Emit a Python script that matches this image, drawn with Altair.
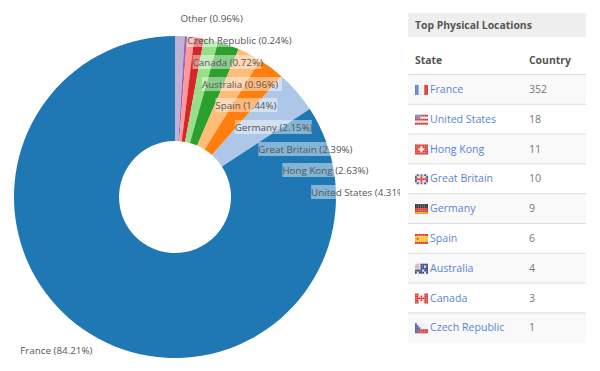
import math
import altair as alt
import pandas as pd

# --- data ---
SLICE_NAMES = ["Other", "Czech Republic", "Canada", "Australia", "Spain", "Germany",
               "Great Britain", "Hong Kong", "United States", "France"]
SLICE_PCT = [0.96, 0.24, 0.72, 0.96, 1.44, 2.15, 2.39, 2.63, 4.31, 84.21]
SLICE_COLORS = ["#c5b0d5", "#9467bd", "#ff9896", "#d62728", "#98df8a", "#2ca02c",
                "#ffbb78", "#ff7f0e", "#aec7e8", "#1f77b4"]
TABLE_STATES = ["France", "United States", "Hong Kong", "Great Britain", "Germany",
                "Spain", "Australia", "Canada", "Czech Republic"]
TABLE_COUNTS = [352, 18, 11, 10, 9, 6, 4, 3, 1]
# label box widths (px) and label baselines, in slice order
LABEL_W = [61, 105, 69, 80, 62, 77, 93, 85, 97, 69]
LABEL_Y = [11, 33, 55, 77, 98, 120, 142, 163, 185, 343]
# flags as small colour grids (rows of columns)
P = {"b": "#3f62a8", "w": "#eef0f4", "r": "#dc3b33", "k": "#3a3a3a", "y": "#f5c52e",
     "n": "#34497f", "s": "#6f80bb", "l": "#5a86cc", "g": "#d8a72c", "c": "#d4d8e4", "p": "#e8a0a0"}
FLAGS = {
    "France": ["llwwwrr"] * 5,
    "United States": ["sssrrrr", "sssww" + "ww", "rrrrrrr", "wwwwwww", "rrrrrrr"],
    "Hong Kong": ["rrrrrrr", "rrrwrrr", "rrwwwrr", "rrrwrrr", "rrrrrrr"],
    "Great Britain": ["cncrcnc", "nccrccn", "rrrrrrr", "nccrccn", "cncrcnc"],
    "Germany": ["kkkkkkk", "kkkkkkk", "rrrrrrr", "rrrrrrr", "ggggggg"],
    "Spain": ["rrrrrrr", "yyyyyyy", "yryyyyy", "yyyyyyy", "rrrrrrr"],
    "Australia": ["cpcnnnn", "ppcnnwn", "cpcnnnn", "nnnnwnn", "nwnnnwn"],
    "Canada": ["rrwwwrr", "rrwrwrr", "rrrrrrr", "rrwrwrr", "rrwwwrr"],
    "Czech Republic": ["bwwwwww", "bbwwwww", "bbbwwww", "bbrrrrr", "brrrrrr"],
}

OX, OY = 8, 8  # page margin
CX, CY, R0, R1, RL = 175 - OX, 197 - OY, 56, 161, 180
FONT = "Open Sans"

# --- pie ---
pie = pd.DataFrame({"name": SLICE_NAMES, "pct": SLICE_PCT, "rank": range(len(SLICE_NAMES))})
arc = alt.Chart(pie).mark_arc(innerRadius=R0, outerRadius=R1).encode(
    theta=alt.Theta("pct:Q", stack=True),
    order=alt.Order("rank:Q", sort="ascending"),
    color=alt.Color("name:N", legend=None,
                    scale=alt.Scale(domain=SLICE_NAMES, range=SLICE_COLORS)),
    x=alt.value(CX), y=alt.value(CY),
)

# --- pie labels: anchored at a fixed radius on each slice's mid-angle ---
total = sum(SLICE_PCT)
rows, cum = [], 0.0
for n, p, w, y in zip(SLICE_NAMES, SLICE_PCT, LABEL_W, LABEL_Y):
    mid = (cum + p / 2) / total * 2 * math.pi
    cum += p
    ax = CX + RL * math.sin(mid)
    left = ax if math.sin(mid) >= 0 else ax - w
    rows.append({"label": f"{n} ({p:.2f}%)", "x": left, "x2": left + w, "y": y,
                 "y0": y - 8, "y1": y + 6})
labels = pd.DataFrame(rows)
label_bg = alt.Chart(labels).mark_rect(color="white", opacity=0.45).encode(
    x=alt.X("x:Q", scale=None, axis=None), x2="x2:Q",
    y=alt.Y("y0:Q", scale=None, axis=None), y2="y1:Q")
label_tx = alt.Chart(labels).mark_text(align="left", baseline="middle", font=FONT,
                                       fontSize=9.8, color="#555555").encode(
    x=alt.X("x:Q", scale=None), y=alt.Y("y:Q", scale=None), text="label:N")

# --- table ---
TX0, TX1 = 408 - OX, 586 - OX
ROW0, ROWH = 74.5 - OY, 29.8
tbl = pd.DataFrame({"state": TABLE_STATES, "count": [str(c) for c in TABLE_COUNTS]})
tbl["i"] = range(len(tbl))
tbl["y0"] = ROW0 + tbl["i"] * ROWH
tbl["y1"] = tbl["y0"] + ROWH
tbl["ym"] = tbl["y0"] + ROWH / 2 + 0.5
tbl["x0"] = TX0
tbl["x1"] = TX1
tbl["xs"] = 430 - OX
tbl["xc"] = 529 - OX

panel = pd.DataFrame({"x0": [TX0 - 8], "x1": [592 - OX], "y0": [0], "y1": [355], "c": ["#ffffff"]})
head = pd.DataFrame({"x0": [TX0], "x1": [TX1], "y0": [13 - OY], "y1": [37 - OY], "c": ["#eeeeee"]})
stripes = tbl[tbl["i"] % 2 == 0].assign(c="#f9f9f9")


def boxes(df, **kw):
    return alt.Chart(df).mark_rect(**kw).encode(
        x=alt.X("x0:Q", scale=None, axis=None), x2="x1:Q",
        y=alt.Y("y0:Q", scale=None, axis=None), y2="y1:Q",
        color=alt.Color("c:N", scale=None, legend=None))


rules = pd.DataFrame({"y": [ROW0 + k * ROWH for k in range(len(tbl))], "x0": TX0, "x1": TX1})
rule = alt.Chart(rules).mark_rule(color="#dddddd", strokeWidth=1).encode(
    x=alt.X("x0:Q", scale=None), x2="x1:Q", y=alt.Y("y:Q", scale=None))

cells = []
for i, st in enumerate(TABLE_STATES):
    grid = FLAGS[st]
    top = ROW0 + i * ROWH + ROWH / 2 - 4.5
    for r, line in enumerate(grid):
        for c, ch in enumerate(line):
            cells.append({"x0": 415 - OX + c * 13 / 7, "x1": 415 - OX + (c + 1) * 13 / 7,
                          "y0": top + r * 2, "y1": top + (r + 1) * 2, "c": P[ch]})
flags = boxes(pd.DataFrame(cells))

state_tx = alt.Chart(tbl).mark_text(align="left", baseline="middle", font=FONT, fontSize=10.6,
                                    color="#5b85d0").encode(
    x=alt.X("xs:Q", scale=None), y=alt.Y("ym:Q", scale=None), text="state:N")
count_tx = alt.Chart(tbl).mark_text(align="left", baseline="middle", font=FONT, fontSize=10.6,
                                    color="#777777").encode(
    x=alt.X("xc:Q", scale=None), y=alt.Y("ym:Q", scale=None), text="count:N")
heads = pd.DataFrame({"t": ["Top Physical Locations", "State", "Country"],
                      "x": [415 - OX, 415 - OX, 529 - OX], "y": [26 - OY, 60.5 - OY, 60.5 - OY]})
head_tx = alt.Chart(heads).mark_text(align="left", baseline="middle", font=FONT, fontSize=10.4,
                                     fontWeight="bold", color="#555555").encode(
    x=alt.X("x:Q", scale=None), y=alt.Y("y:Q", scale=None), text="t:N")

chart = alt.layer(arc, label_bg, label_tx, boxes(panel), boxes(head), boxes(stripes), rule,
                  flags, state_tx, count_tx, head_tx).resolve_scale(color="independent").properties(
    width=584, height=355, padding=0, autosize=alt.AutoSizeParams(type="none"),
    background="white").configure_view(stroke=None)

chart.save("out.html", embed_options={"renderer": "svg", "actions": False})
